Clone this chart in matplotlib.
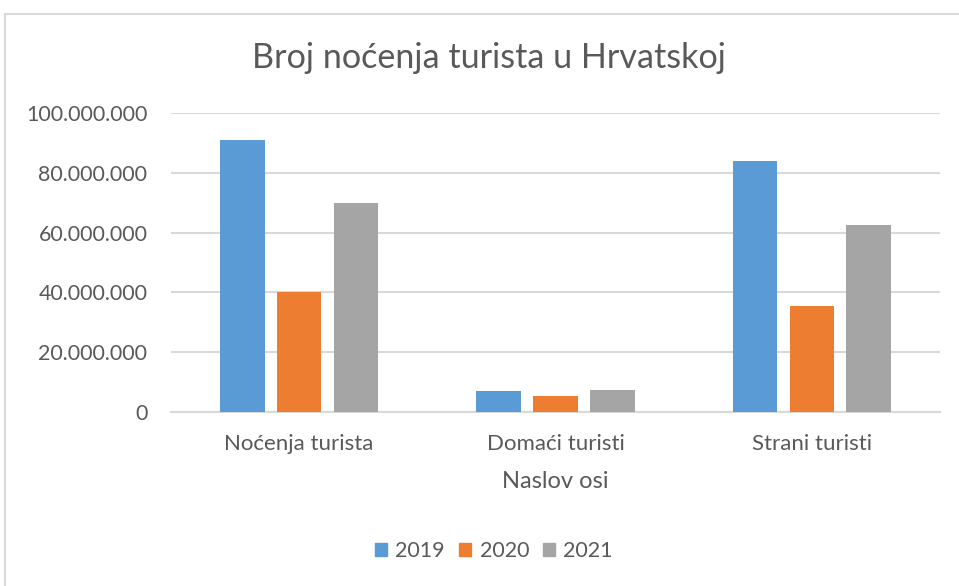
import matplotlib
matplotlib.use("Agg")
import matplotlib.pyplot as plt
from matplotlib.patches import Rectangle, Patch
from matplotlib.ticker import FuncFormatter, MultipleLocator
import numpy as np

categories = ["Noćenja turista", "Domaći turisti", "Strani turisti"]
years = ["2019", "2020", "2021"]
v2019 = [91_100_000, 6_800_000, 83_900_000]
v2020 = [40_200_000, 5_200_000, 35_300_000]
v2021 = [69_900_000, 7_300_000, 62_600_000]
colors = ["#5B9BD5", "#ED7D31", "#A5A5A5"]

plt.rcParams['font.family'] = ['Lato', 'DejaVu Sans']
txt = "#595959"

fig = plt.figure(figsize=(9.59, 5.86), dpi=100)
fig.patch.set_facecolor("white")
fig.patches.append(Rectangle((5/959, -0.2), 1.5, 1 - 14/586 + 0.2, transform=fig.transFigure,
                             fill=False, edgecolor="#D9D9D9", lw=1.5, zorder=0))

ax = fig.add_axes([171/959, 1 - 411.7/586, (940 - 171)/959, (411.7 - 113.3)/586])
x = np.arange(len(categories))
w = 0.174
off = 0.222
series = [v2019, v2020, v2021]
for i, (vals, c) in enumerate(zip(series, colors)):
    ax.bar(x + (i - 1) * off, vals, width=w, color=c, zorder=3, label=years[i])

ax.set_xlim(-0.5, 2.5)
ax.set_ylim(0, 100_000_000)
ax.yaxis.set_major_locator(MultipleLocator(20_000_000))
ax.yaxis.set_major_formatter(FuncFormatter(lambda v, p: f"{int(round(v)):,}".replace(",", ".")))
ax.grid(axis="y", color="#D9D9D9", lw=1.5, zorder=0)
for s in ["top", "right", "left"]:
    ax.spines[s].set_visible(False)
ax.spines["bottom"].set_color("#D9D9D9")
ax.spines["bottom"].set_linewidth(1.5)
ax.set_xticks(x)
ax.set_xticklabels(categories)
ax.tick_params(axis="both", length=0, colors=txt)
ax.tick_params(axis="x", pad=16, labelsize=16)
ax.tick_params(axis="y", pad=17, labelsize=15.4)

ax.set_xlabel("Naslov osi", fontsize=17, color=txt)
ax.xaxis.set_label_coords(0.5, -(482 - 411.7) / 298.4)
ax.xaxis.label.set_va("center")

fig.text(489.5 / 959, 1 - 58 / 586, "Broj noćenja turista u Hrvatskoj",
         ha="center", va="center", fontsize=24.6, color=txt)

handles = [Patch(facecolor=c, edgecolor=c) for c in colors]
fig.legend(handles, years, loc="center", bbox_to_anchor=(494 / 959, 1 - 551 / 586), ncol=3,
           frameon=False, fontsize=15.5, labelcolor=txt, handlelength=0.55, handleheight=0.55,
           handletextpad=0.4, columnspacing=0.65)

fig.savefig("out.png", dpi=100)
